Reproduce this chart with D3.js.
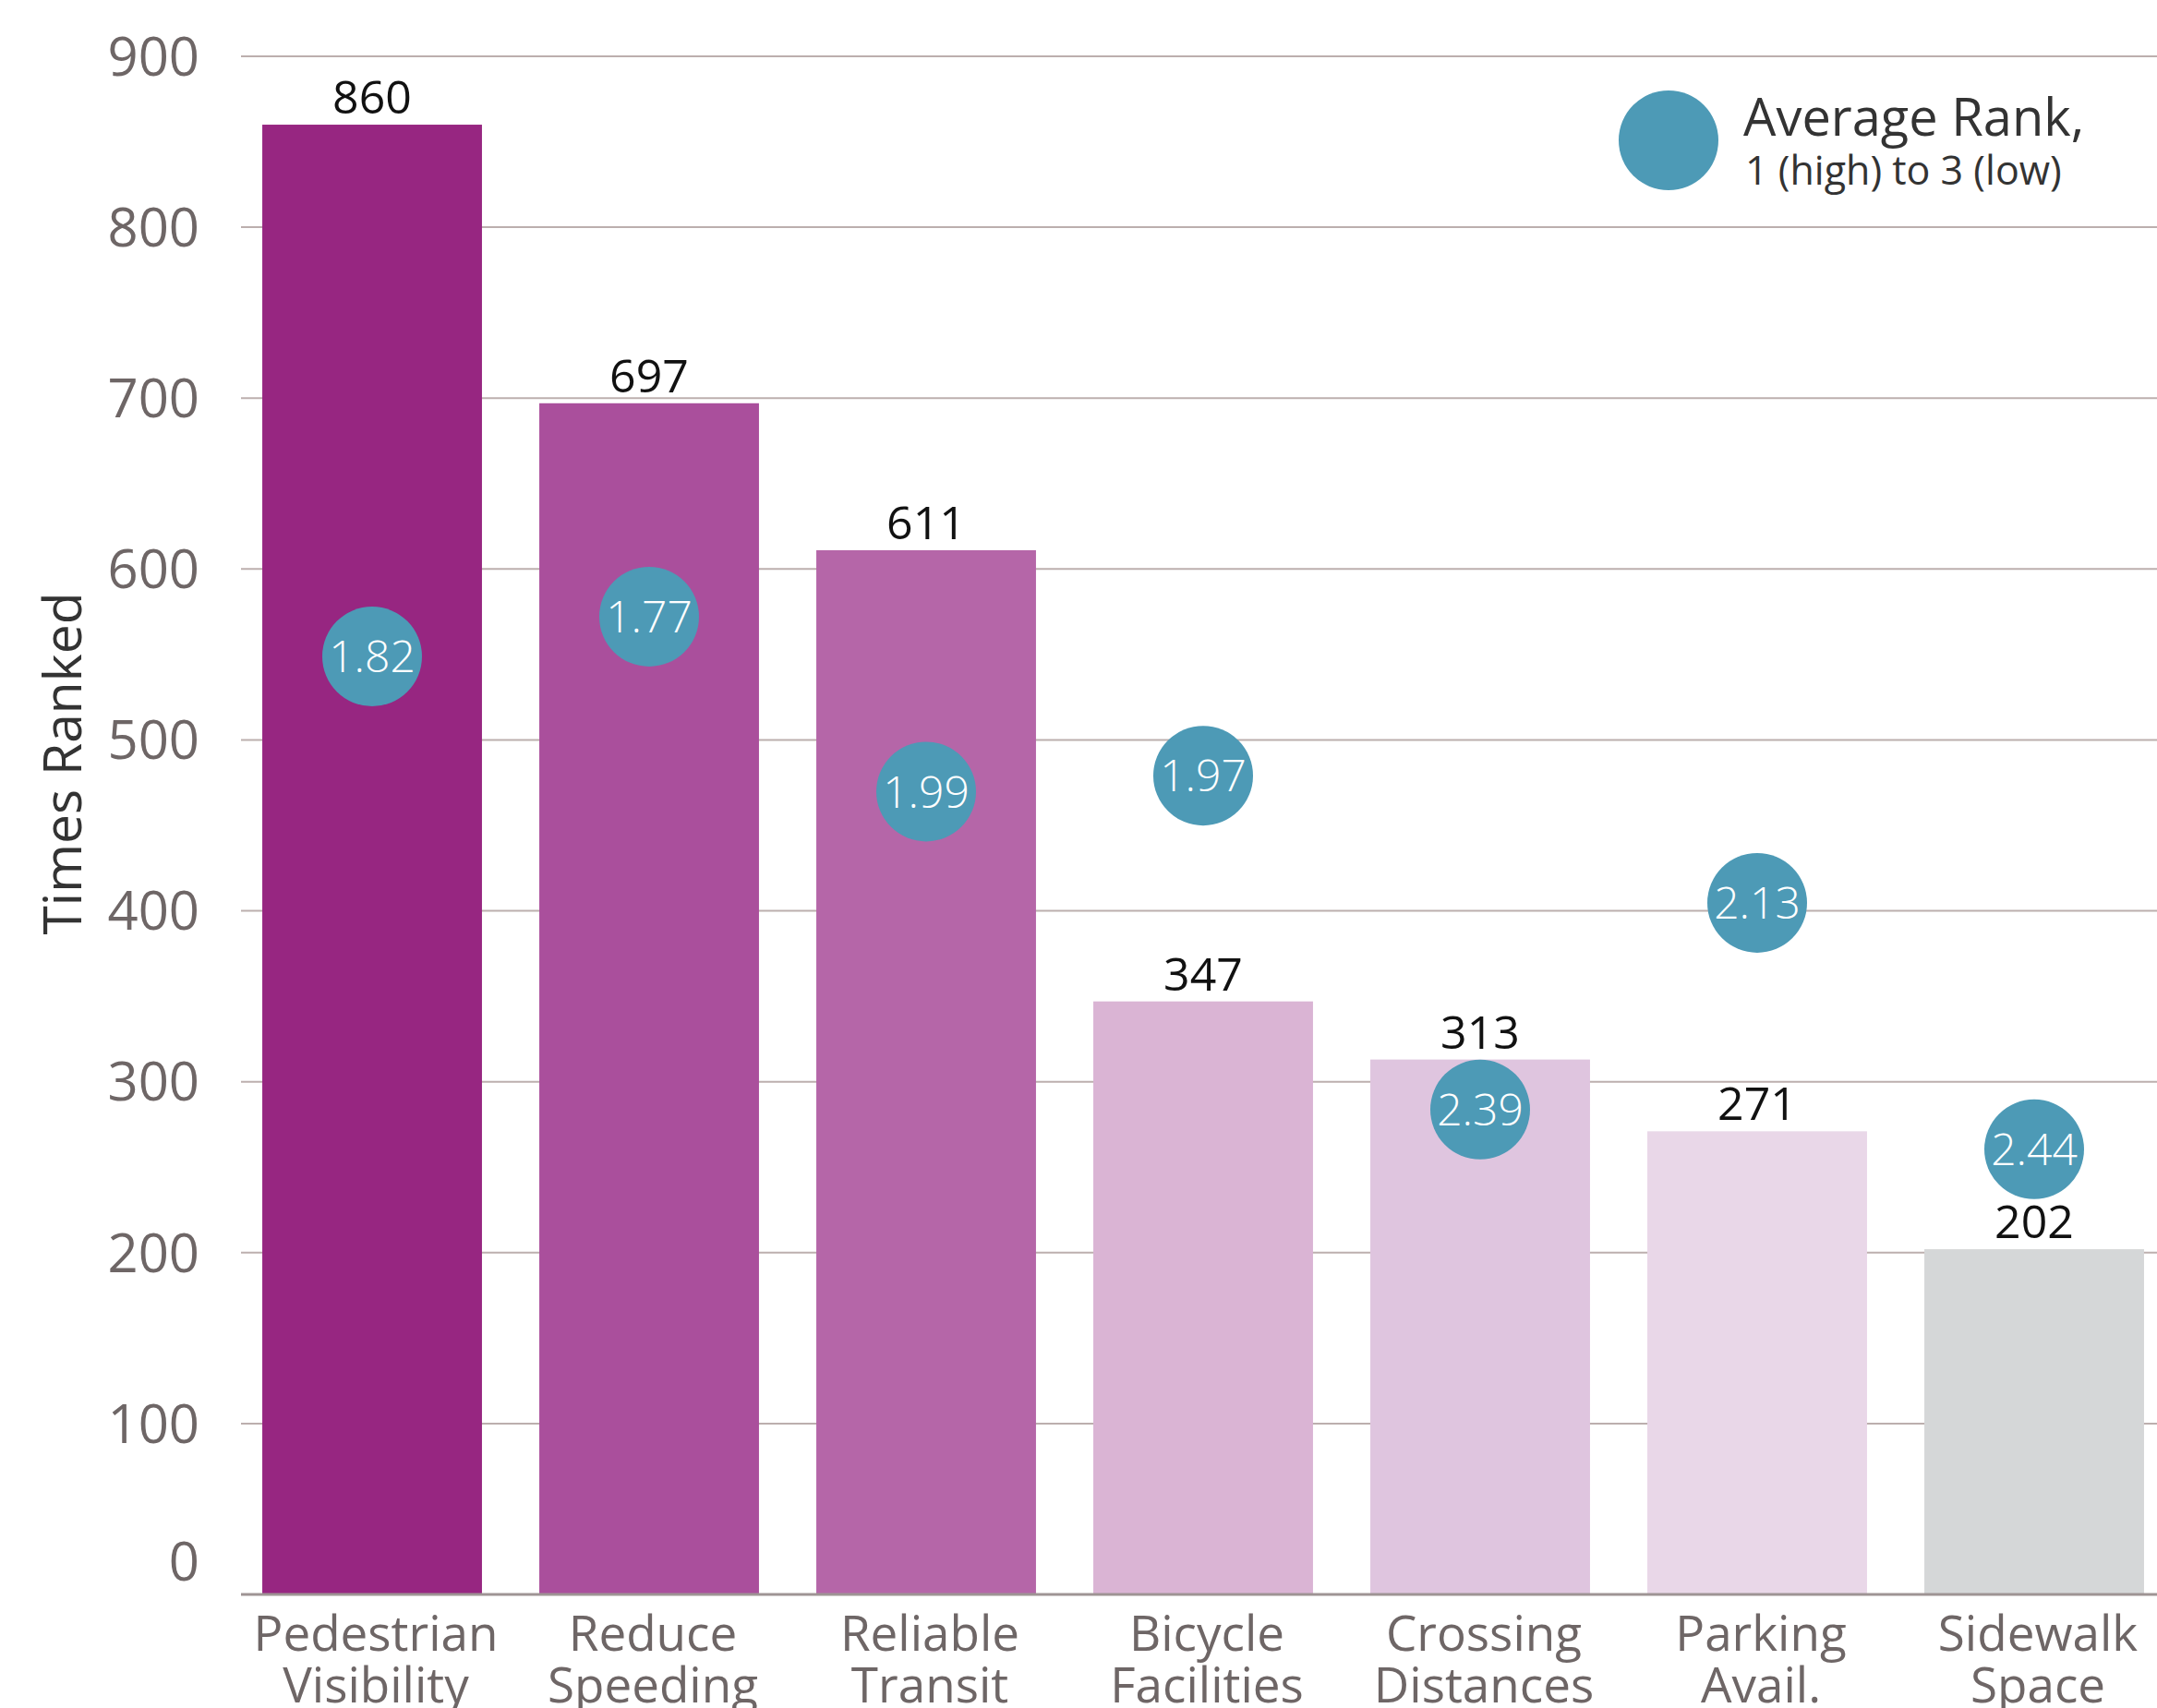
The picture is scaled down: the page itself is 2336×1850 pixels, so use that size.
<!DOCTYPE html>
<html>
<head>
<meta charset="utf-8">
<script src="https://cdn.jsdelivr.net/npm/d3@7"></script>
<style>
  body { margin: 0; background: #fff; }
  text { font-family: "Open Sans", "DejaVu Sans", sans-serif; }
</style>
</head>
<body>
<script>
// chart data
var categories = [
  ["Pedestrian", "Visibility"],
  ["Reduce", "Speeding"],
  ["Reliable", "Transit"],
  ["Bicycle", "Facilities"],
  ["Crossing", "Distances"],
  ["Parking", "Avail."],
  ["Sidewalk", "Space"]
];
var timesRanked = [860, 697, 611, 347, 313, 271, 202];
var avgRank = [1.82, 1.77, 1.99, 1.97, 2.39, 2.13, 2.44];
var barColors = ["#972681", "#aa4f9c", "#b566a8", "#dab4d4", "#dfc5df", "#e9d7e8", "#d5d7d8"];
var yTicks = [0, 100, 200, 300, 400, 500, 600, 700, 800, 900];

var width = 2336, height = 1850;

var svg = d3.select("body").append("svg")
    .attr("width", width)
    .attr("height", height);

// scales
var x = d3.scaleBand()
    .domain(d3.range(categories.length))
    .range([253, 2353])
    .paddingInner(0.207)
    .paddingOuter(0.1035);
var y = d3.scaleLinear().domain([0, 900]).range([1727, 61]);
// average rank: 1 (high) at the top, 3 (low) at the baseline
var r = d3.scaleLinear().domain([1, 3]).range([5, 1727]);

// gridlines
svg.append("g").selectAll("line")
    .data(yTicks.filter(function(d) { return d > 0; }))
    .enter().append("line")
    .attr("x1", 261).attr("x2", width)
    .attr("y1", function(d) { return y(d); })
    .attr("y2", function(d) { return y(d); })
    .style("stroke", "#bcafae")
    .style("stroke-width", 2);

// y axis labels
var yAxis = svg.append("g")
    .attr("transform", "translate(261,0)")
    .call(d3.axisLeft(y).tickValues(yTicks).tickSize(0).tickPadding(45));
yAxis.select(".domain").remove();
yAxis.selectAll("text")
    .style("font-family", "'Open Sans', sans-serif")
    .style("font-size", "58px")
    .style("fill", "#6e6666")
    .attr("dy", function(d) { return d === 0 ? "-0.26em" : "0.35em"; });

// bars
svg.append("g").selectAll("rect")
    .data(timesRanked)
    .enter().append("rect")
    .attr("x", function(d, i) { return x(i); })
    .attr("width", x.bandwidth())
    .attr("y", function(d) { return y(d); })
    .attr("height", function(d) { return y(0) - y(d); })
    .style("fill", function(d, i) { return barColors[i]; });

// baseline
svg.append("line")
    .attr("x1", 261).attr("x2", width)
    .attr("y1", y(0)).attr("y2", y(0))
    .style("stroke", "#9e9494")
    .style("stroke-width", 3);

// value labels
svg.append("g").selectAll("text")
    .data(timesRanked)
    .enter().append("text")
    .attr("x", function(d, i) { return x(i) + x.bandwidth() / 2; })
    .attr("y", function(d) { return y(d) - 12; })
    .attr("text-anchor", "middle")
    .style("font-size", "50px")
    .style("fill", "#111")
    .text(function(d) { return d; });

// average rank circles
var dots = svg.append("g").selectAll("g")
    .data(avgRank)
    .enter().append("g")
    .attr("transform", function(d, i) {
      return "translate(" + (x(i) + x.bandwidth() / 2) + "," + r(d) + ")";
    });
dots.append("circle")
    .attr("r", 54)
    .style("fill", "#4d9ab6");
dots.append("text")
    .attr("text-anchor", "middle")
    .attr("dy", "0.36em")
    .style("font-size", "48px")
    .style("font-weight", 300)
    .style("fill", "#fff")
    .text(function(d) { return d.toFixed(2); });

// x axis labels
var xl = svg.append("g").selectAll("text")
    .data(categories)
    .enter().append("text")
    .attr("text-anchor", "middle")
    .attr("x", function(d, i) { return x(i) + x.bandwidth() / 2 + 4; })
    .attr("y", 1788)
    .style("font-size", "53px")
    .style("fill", "#6e6666");
xl.append("tspan")
    .attr("x", function(d, i) { return x(i) + x.bandwidth() / 2 + 4; })
    .text(function(d) { return d[0]; });
xl.append("tspan")
    .attr("x", function(d, i) { return x(i) + x.bandwidth() / 2 + 4; })
    .attr("dy", 56)
    .text(function(d) { return d[1]; });

// y axis title
svg.append("text")
    .attr("transform", "translate(88,827) rotate(-90)")
    .attr("text-anchor", "middle")
    .style("font-size", "57px")
    .style("fill", "#333")
    .text("Times Ranked");

// legend
svg.append("circle")
    .attr("cx", 1807).attr("cy", 152)
    .attr("r", 54)
    .style("fill", "#4d9ab6");
svg.append("text")
    .attr("x", 1888).attr("y", 147)
    .style("font-size", "56px")
    .style("fill", "#333")
    .text("Average Rank,");
svg.append("text")
    .attr("x", 1890).attr("y", 200)
    .style("font-size", "43px")
    .style("fill", "#333")
    .text("1 (high) to 3 (low)");
</script>
</body>
</html>
